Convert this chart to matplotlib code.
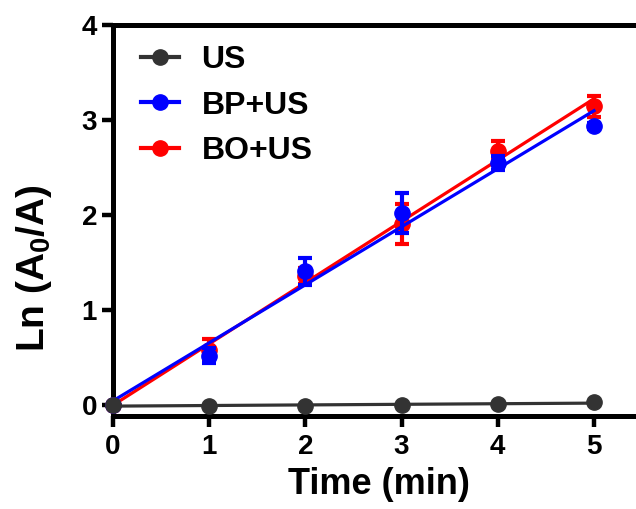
import numpy as np
import matplotlib
matplotlib.use("Agg")
import matplotlib.pyplot as plt
from matplotlib.lines import Line2D

plt.rcParams['font.family'] = ['Liberation Sans', 'DejaVu Sans']
plt.rcParams['font.weight'] = 'bold'
plt.rcParams['mathtext.fontset'] = 'custom'
plt.rcParams['mathtext.rm'] = 'Liberation Sans:bold'
plt.rcParams['mathtext.bf'] = 'Liberation Sans:bold'

# data
time = [0, 1, 2, 3, 4, 5]
us = [0.0, -0.01, -0.005, 0.005, 0.01, 0.03]
bp_us = [0.0, 0.52, 1.41, 2.02, 2.55, 2.94]
bp_err = [0.0, 0.08, 0.14, 0.21, 0.07, 0.03]
bo_us = [0.0, 0.58, 1.36, 1.91, 2.68, 3.15]
bo_err = [0.0, 0.12, 0.08, 0.21, 0.10, 0.11]

c_us = "#333333"
c_bp = "#0000ff"
c_bo = "#ff0000"

fig = plt.figure(figsize=(6.36, 5.09), dpi=100)
ax = fig.add_axes([0.1777, 0.1827, 0.85, 0.7673])

xfit = np.array([0, 5])

def draw(y, err, color, z):
    p = np.polyfit(time, y, 1)
    ax.plot(xfit, np.polyval(p, xfit), color=color, lw=2.3, zorder=z)
    ax.errorbar(time, y, yerr=err, fmt="o", color=color, ms=11, elinewidth=3,
                capsize=4.7, capthick=3, zorder=z + 0.5, clip_on=False)

draw(bo_us, bo_err, c_bo, 3)
draw(bp_us, bp_err, c_bp, 4)
draw(us, None, c_us, 5)

ax.set_xlim(0, 5.62)
ax.set_ylim(-0.115, 4)
ax.set_xticks(range(6))
ax.set_yticks(range(5))

for s in ["left", "bottom", "top"]:
    ax.spines[s].set_linewidth(3.6)
ax.spines["right"].set_visible(False)
ax.tick_params(axis="both", length=8, width=3.2, labelsize=20)
ax.tick_params(axis="x", pad=5)
ax.tick_params(axis="y", pad=3.5)
for lab in ax.get_xticklabels() + ax.get_yticklabels():
    lab.set_fontweight("bold")

ax.set_xlabel("Time (min)", fontsize=26, fontweight="bold")
ax.xaxis.set_label_coords(0.492, -0.13)
ax.set_ylabel(r"Ln (A$_\mathbf{0}$/A)", fontsize=28, fontweight="bold")
ax.yaxis.set_label_coords(-0.11, 0.379)

handles = [
    Line2D([], [], color=c_us, lw=3, marker="o", ms=11),
    Line2D([], [], color=c_bp, lw=3, marker="o", ms=11),
    Line2D([], [], color=c_bo, lw=3, marker="o", ms=11),
]
ax.legend(handles, ["US", "BP+US", "BO+US"], loc="upper left",
          bbox_to_anchor=(0.022, 0.99), frameon=False,
          handlelength=1.2, handletextpad=0.7, labelspacing=0.48,
          borderpad=0, prop={"weight": "bold", "size": 23})

fig.savefig("out.png", dpi=100)
